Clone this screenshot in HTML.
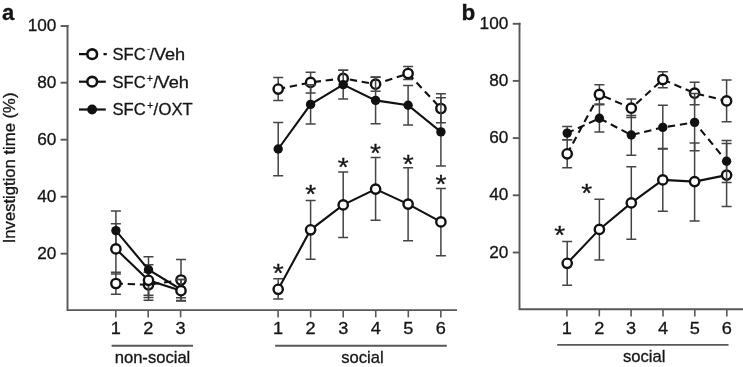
<!DOCTYPE html>
<html><head><meta charset="utf-8"><title>figure</title>
<style>
html,body{margin:0;padding:0;background:#fff;}
svg{display:block;}
text{font-family:"Liberation Sans", Arial, Helvetica, sans-serif;fill:#151515;stroke:#151515;stroke-width:0.3px;}
</style></head><body>
<svg width="743" height="367" viewBox="0 0 743 367">
<rect width="743" height="367" fill="#fff"/>
<g stroke="#585858" stroke-width="1.9" fill="none">
<path d="M67.5 25.1V310.1H457"/>
<path d="M60.6 253.70H67.5"/>
<path d="M60.6 196.70H67.5"/>
<path d="M60.6 139.70H67.5"/>
<path d="M60.6 82.70H67.5"/>
<path d="M60.6 26.05H68.45"/>
<path d="M115.8 310.1V317.4" stroke-width="1.6"/>
<path d="M148.2 310.1V317.4" stroke-width="1.6"/>
<path d="M180.6 310.1V317.4" stroke-width="1.6"/>
<path d="M278.1 310.1V317.4" stroke-width="1.6"/>
<path d="M310.65 310.1V317.4" stroke-width="1.6"/>
<path d="M343.2 310.1V317.4" stroke-width="1.6"/>
<path d="M375.75 310.1V317.4" stroke-width="1.6"/>
<path d="M408.3 310.1V317.4" stroke-width="1.6"/>
<path d="M440.85 310.1V317.4" stroke-width="1.6"/>
<path d="M111.6 345.8H193"/>
<path d="M275.2 345.8H446.8"/>
</g>
<text transform="translate(56.4 259.45) scale(1.05 1)" font-size="16.4" text-anchor="end">20</text>
<text transform="translate(56.4 202.45) scale(1.05 1)" font-size="16.4" text-anchor="end">40</text>
<text transform="translate(56.4 145.45) scale(1.05 1)" font-size="16.4" text-anchor="end">60</text>
<text transform="translate(56.4 88.45) scale(1.05 1)" font-size="16.4" text-anchor="end">80</text>
<text transform="translate(56.4 30.75) scale(1.05 1)" font-size="16.4" text-anchor="end">100</text>
<text transform="translate(115.8 334.3) scale(1.08 1)" font-size="16.8" text-anchor="middle">1</text>
<text transform="translate(148.2 334.3) scale(1.08 1)" font-size="16.8" text-anchor="middle">2</text>
<text transform="translate(180.6 334.3) scale(1.08 1)" font-size="16.8" text-anchor="middle">3</text>
<text transform="translate(278.1 334.3) scale(1.08 1)" font-size="16.8" text-anchor="middle">1</text>
<text transform="translate(310.65 334.3) scale(1.08 1)" font-size="16.8" text-anchor="middle">2</text>
<text transform="translate(343.2 334.3) scale(1.08 1)" font-size="16.8" text-anchor="middle">3</text>
<text transform="translate(375.75 334.3) scale(1.08 1)" font-size="16.8" text-anchor="middle">4</text>
<text transform="translate(408.3 334.3) scale(1.08 1)" font-size="16.8" text-anchor="middle">5</text>
<text transform="translate(440.85 334.3) scale(1.08 1)" font-size="16.8" text-anchor="middle">6</text>
<text x="152.5" y="363" font-size="16.6" text-anchor="middle">non-social</text>
<text x="362.4" y="363" font-size="16.6" text-anchor="middle">social</text>
<text transform="translate(14.5 243.3) rotate(-90)" font-size="16.65">Investigtion time (%)</text>
<text x="2.0" y="20.4" font-size="22" font-weight="bold">a</text>
<text x="461.6" y="20.2" font-size="22.5" font-weight="bold">b</text>
<path d="M79 54.2H87M103.5 54.2H106.8" stroke="#111" stroke-width="2.2"/>
<circle cx="92.20" cy="54.20" r="4.85" fill="#fff" stroke="#111" stroke-width="2.55"/>
<path d="M79 81.7H105.8" stroke="#111" stroke-width="2.2"/>
<circle cx="92.20" cy="81.70" r="4.85" fill="#fff" stroke="#111" stroke-width="2.55"/>
<path d="M79 109.5H105.8" stroke="#111" stroke-width="2.2"/>
<circle cx="92.10" cy="109.50" r="4.9" fill="#111"/>
<text y="60.1" font-size="16.6"><tspan x="112.5">SFC</tspan><tspan x="147.2" dy="-9.2" font-size="8">-</tspan><tspan x="149.5" dy="9.2">/</tspan><tspan x="153.9" textLength="31.30" lengthAdjust="spacingAndGlyphs">Veh</tspan></text>
<text y="87.85" font-size="16.6"><tspan x="112.5">SFC</tspan><tspan x="146.9" dy="-6.3" font-size="10">+</tspan><tspan x="153.5" dy="6.3">/</tspan><tspan x="157.6" textLength="31.30" lengthAdjust="spacingAndGlyphs">Veh</tspan></text>
<text y="115.4" font-size="16.6"><tspan x="112.5">SFC</tspan><tspan x="147.3" dy="-6.3" font-size="10">+</tspan><tspan x="153.5" dy="6.3">/</tspan><tspan x="158.6">OXT</tspan></text>
<path d="M115.90 272.20V294.20M110.90 272.20H120.90M110.90 294.20H120.90" stroke="#444" stroke-width="1.5" fill="none"/>
<path d="M148.50 272.30V297.40M143.50 272.30H153.50M143.50 297.40H153.50" stroke="#444" stroke-width="1.5" fill="none"/>
<path d="M181.00 259.60V300.60M176.00 259.60H186.00M176.00 300.60H186.00" stroke="#444" stroke-width="1.5" fill="none"/>
<path d="M115.90 283.50L148.50 284.80L181.00 280.00" stroke="#111" stroke-width="2.1" fill="none" stroke-dasharray="7.4 4.75" stroke-dashoffset="0.35"/>
<circle cx="115.90" cy="283.50" r="4.65" fill="#fff" stroke="#111" stroke-width="2.4"/>
<circle cx="148.50" cy="284.80" r="4.65" fill="#fff" stroke="#111" stroke-width="2.4"/>
<circle cx="181.00" cy="280.00" r="4.65" fill="#fff" stroke="#111" stroke-width="2.4"/>
<path d="M115.90 211.00V250.20M110.90 211.00H120.90M110.90 250.20H120.90" stroke="#444" stroke-width="1.5" fill="none"/>
<path d="M148.50 256.70V295.20M143.50 256.70H153.50M143.50 295.20H153.50" stroke="#444" stroke-width="1.5" fill="none"/>
<path d="M181.00 279.60V301.00M176.00 279.60H186.00M176.00 301.00H186.00" stroke="#444" stroke-width="1.5" fill="none"/>
<path d="M115.90 223.70V274.10M110.90 223.70H120.90M110.90 274.10H120.90" stroke="#444" stroke-width="1.5" fill="none"/>
<path d="M148.50 264.80V300.30M143.50 264.80H153.50M143.50 300.30H153.50" stroke="#444" stroke-width="1.5" fill="none"/>
<path d="M181.00 279.60V297.70M176.00 279.60H186.00M176.00 297.70H186.00" stroke="#444" stroke-width="1.5" fill="none"/>
<path d="M115.90 230.60L148.50 269.70L181.00 289.50" stroke="#111" stroke-width="2.1" fill="none"/>
<circle cx="115.90" cy="230.60" r="4.7" fill="#111"/>
<circle cx="148.50" cy="269.70" r="4.7" fill="#111"/>
<circle cx="181.00" cy="289.50" r="4.7" fill="#111"/>
<path d="M115.90 248.90L148.50 280.30L181.00 290.70" stroke="#111" stroke-width="2.1" fill="none"/>
<circle cx="115.90" cy="248.90" r="4.65" fill="#fff" stroke="#111" stroke-width="2.4"/>
<circle cx="148.50" cy="280.30" r="4.65" fill="#fff" stroke="#111" stroke-width="2.4"/>
<circle cx="181.00" cy="290.70" r="4.65" fill="#fff" stroke="#111" stroke-width="2.4"/>
<path d="M278.20 77.55V100.55M273.20 77.55H283.20M273.20 100.55H283.20" stroke="#444" stroke-width="1.5" fill="none"/>
<path d="M310.60 72.30V93.00M305.60 72.30H315.60M305.60 93.00H315.60" stroke="#444" stroke-width="1.5" fill="none"/>
<path d="M343.20 70.20V86.60M338.20 70.20H348.20M338.20 86.60H348.20" stroke="#444" stroke-width="1.5" fill="none"/>
<path d="M375.60 77.20V91.30M370.60 77.20H380.60M370.60 91.30H380.60" stroke="#444" stroke-width="1.5" fill="none"/>
<path d="M408.10 66.50V79.50M403.10 66.50H413.10M403.10 79.50H413.10" stroke="#444" stroke-width="1.5" fill="none"/>
<path d="M440.90 93.70V122.80M435.90 93.70H445.90M435.90 122.80H445.90" stroke="#444" stroke-width="1.5" fill="none"/>
<path d="M278.20 89.05L310.60 82.40L343.20 78.40L375.60 84.20L408.10 73.50L440.90 108.50" stroke="#111" stroke-width="2.1" fill="none" stroke-dasharray="7.4 4.75" stroke-dashoffset="0.35"/>
<circle cx="278.20" cy="89.05" r="4.65" fill="#fff" stroke="#111" stroke-width="2.4"/>
<circle cx="310.60" cy="82.40" r="4.65" fill="#fff" stroke="#111" stroke-width="2.4"/>
<circle cx="343.20" cy="78.40" r="4.65" fill="#fff" stroke="#111" stroke-width="2.4"/>
<circle cx="375.60" cy="84.20" r="4.65" fill="#fff" stroke="#111" stroke-width="2.4"/>
<circle cx="408.10" cy="73.50" r="4.65" fill="#fff" stroke="#111" stroke-width="2.4"/>
<circle cx="440.90" cy="108.50" r="4.65" fill="#fff" stroke="#111" stroke-width="2.4"/>
<path d="M278.20 122.50V175.80M273.20 122.50H283.20M273.20 175.80H283.20" stroke="#444" stroke-width="1.5" fill="none"/>
<path d="M310.60 84.70V124.00M305.60 84.70H315.60M305.60 124.00H315.60" stroke="#444" stroke-width="1.5" fill="none"/>
<path d="M343.20 70.20V99.00M338.20 70.20H348.20M338.20 99.00H348.20" stroke="#444" stroke-width="1.5" fill="none"/>
<path d="M375.60 77.10V123.75M370.60 77.10H380.60M370.60 123.75H380.60" stroke="#444" stroke-width="1.5" fill="none"/>
<path d="M408.10 85.60V124.90M403.10 85.60H413.10M403.10 124.90H413.10" stroke="#444" stroke-width="1.5" fill="none"/>
<path d="M440.90 97.70V165.90M435.90 97.70H445.90M435.90 165.90H445.90" stroke="#444" stroke-width="1.5" fill="none"/>
<path d="M278.20 149.00L310.60 104.40L343.20 84.60L375.60 100.40L408.10 105.25L440.90 131.90" stroke="#111" stroke-width="2.1" fill="none"/>
<circle cx="278.20" cy="149.00" r="4.7" fill="#111"/>
<circle cx="310.60" cy="104.40" r="4.7" fill="#111"/>
<circle cx="343.20" cy="84.60" r="4.7" fill="#111"/>
<circle cx="375.60" cy="100.40" r="4.7" fill="#111"/>
<circle cx="408.10" cy="105.25" r="4.7" fill="#111"/>
<circle cx="440.90" cy="131.90" r="4.7" fill="#111"/>
<path d="M278.20 278.80V299.10M273.20 278.80H283.20M273.20 299.10H283.20" stroke="#444" stroke-width="1.5" fill="none"/>
<path d="M310.60 200.60V259.20M305.60 200.60H315.60M305.60 259.20H315.60" stroke="#444" stroke-width="1.5" fill="none"/>
<path d="M343.20 172.10V237.50M338.20 172.10H348.20M338.20 237.50H348.20" stroke="#444" stroke-width="1.5" fill="none"/>
<path d="M375.60 157.50V220.20M370.60 157.50H380.60M370.60 220.20H380.60" stroke="#444" stroke-width="1.5" fill="none"/>
<path d="M408.10 167.70V240.70M403.10 167.70H413.10M403.10 240.70H413.10" stroke="#444" stroke-width="1.5" fill="none"/>
<path d="M440.90 188.50V255.80M435.90 188.50H445.90M435.90 255.80H445.90" stroke="#444" stroke-width="1.5" fill="none"/>
<path d="M278.20 289.30L310.60 229.80L343.20 204.90L375.60 189.10L408.10 204.10L440.90 221.90" stroke="#111" stroke-width="2.1" fill="none"/>
<circle cx="278.20" cy="289.30" r="4.65" fill="#fff" stroke="#111" stroke-width="2.4"/>
<circle cx="310.60" cy="229.80" r="4.65" fill="#fff" stroke="#111" stroke-width="2.4"/>
<circle cx="343.20" cy="204.90" r="4.65" fill="#fff" stroke="#111" stroke-width="2.4"/>
<circle cx="375.60" cy="189.10" r="4.65" fill="#fff" stroke="#111" stroke-width="2.4"/>
<circle cx="408.10" cy="204.10" r="4.65" fill="#fff" stroke="#111" stroke-width="2.4"/>
<circle cx="440.90" cy="221.90" r="4.65" fill="#fff" stroke="#111" stroke-width="2.4"/>
<text transform="translate(278.20 281.80) scale(1.06 0.95)" font-size="26.5" text-anchor="middle" stroke="#111" stroke-width="0.5">*</text>
<text transform="translate(310.70 203.40) scale(1.06 0.95)" font-size="26.5" text-anchor="middle" stroke="#111" stroke-width="0.5">*</text>
<text transform="translate(343.20 175.80) scale(1.06 0.95)" font-size="26.5" text-anchor="middle" stroke="#111" stroke-width="0.5">*</text>
<text transform="translate(375.50 162.00) scale(1.06 0.95)" font-size="26.5" text-anchor="middle" stroke="#111" stroke-width="0.5">*</text>
<text transform="translate(408.30 173.20) scale(1.06 0.95)" font-size="26.5" text-anchor="middle" stroke="#111" stroke-width="0.5">*</text>
<text transform="translate(440.90 193.10) scale(1.06 0.95)" font-size="26.5" text-anchor="middle" stroke="#111" stroke-width="0.5">*</text>
<g stroke="#585858" stroke-width="1.9" fill="none">
<path d="M519.5 22.85V309.3H743"/>
<path d="M512.8 252.50H519.5"/>
<path d="M512.8 195.30H519.5"/>
<path d="M512.8 138.10H519.5"/>
<path d="M512.8 80.90H519.5"/>
<path d="M512.8 23.8H520.45"/>
<path d="M566.9 309.3V316.4" stroke-width="1.6"/>
<path d="M599.3 309.3V316.4" stroke-width="1.6"/>
<path d="M631.1 309.3V316.4" stroke-width="1.6"/>
<path d="M663.0 309.3V316.4" stroke-width="1.6"/>
<path d="M694.8 309.3V316.4" stroke-width="1.6"/>
<path d="M726.8 309.3V316.4" stroke-width="1.6"/>
<path d="M557.2 344.9H728.5"/>
</g>
<text transform="translate(508.3 257.55) scale(1.05 1)" font-size="16.4" text-anchor="end">20</text>
<text transform="translate(508.3 200.35) scale(1.05 1)" font-size="16.4" text-anchor="end">40</text>
<text transform="translate(508.3 143.15) scale(1.05 1)" font-size="16.4" text-anchor="end">60</text>
<text transform="translate(508.3 85.95) scale(1.05 1)" font-size="16.4" text-anchor="end">80</text>
<text transform="translate(508.3 28.75) scale(1.05 1)" font-size="16.4" text-anchor="end">100</text>
<text transform="translate(566.9 333.6) scale(1.08 1)" font-size="16.8" text-anchor="middle">1</text>
<text transform="translate(599.3 333.6) scale(1.08 1)" font-size="16.8" text-anchor="middle">2</text>
<text transform="translate(631.1 333.6) scale(1.08 1)" font-size="16.8" text-anchor="middle">3</text>
<text transform="translate(663.0 333.6) scale(1.08 1)" font-size="16.8" text-anchor="middle">4</text>
<text transform="translate(694.8 333.6) scale(1.08 1)" font-size="16.8" text-anchor="middle">5</text>
<text transform="translate(726.8 333.6) scale(1.08 1)" font-size="16.8" text-anchor="middle">6</text>
<text x="644.2" y="362.1" font-size="16.6" text-anchor="middle">social</text>
<path d="M567.20 241.45V285.15M562.20 241.45H572.20M562.20 285.15H572.20" stroke="#444" stroke-width="1.5" fill="none"/>
<path d="M599.40 199.20V260.00M594.40 199.20H604.40M594.40 260.00H604.40" stroke="#444" stroke-width="1.5" fill="none"/>
<path d="M631.30 166.70V239.20M626.30 166.70H636.30M626.30 239.20H636.30" stroke="#444" stroke-width="1.5" fill="none"/>
<path d="M662.80 148.60V211.25M657.80 148.60H667.80M657.80 211.25H667.80" stroke="#444" stroke-width="1.5" fill="none"/>
<path d="M694.60 143.10V221.10M689.60 143.10H699.60M689.60 221.10H699.60" stroke="#444" stroke-width="1.5" fill="none"/>
<path d="M726.60 143.40V206.60M721.60 143.40H731.60M721.60 206.60H731.60" stroke="#444" stroke-width="1.5" fill="none"/>
<path d="M567.20 263.30L599.40 229.40L631.30 202.90L662.80 179.90L694.60 181.60L726.60 175.10" stroke="#111" stroke-width="2.1" fill="none"/>
<circle cx="567.20" cy="263.30" r="4.65" fill="#fff" stroke="#111" stroke-width="2.4"/>
<circle cx="599.40" cy="229.40" r="4.65" fill="#fff" stroke="#111" stroke-width="2.4"/>
<circle cx="631.30" cy="202.90" r="4.65" fill="#fff" stroke="#111" stroke-width="2.4"/>
<circle cx="662.80" cy="179.90" r="4.65" fill="#fff" stroke="#111" stroke-width="2.4"/>
<circle cx="694.60" cy="181.60" r="4.65" fill="#fff" stroke="#111" stroke-width="2.4"/>
<circle cx="726.60" cy="175.10" r="4.65" fill="#fff" stroke="#111" stroke-width="2.4"/>
<path d="M567.20 139.80V167.80M562.20 139.80H572.20M562.20 167.80H572.20" stroke="#444" stroke-width="1.5" fill="none"/>
<path d="M599.40 84.80V104.00M594.40 84.80H604.40M594.40 104.00H604.40" stroke="#444" stroke-width="1.5" fill="none"/>
<path d="M631.30 98.90V117.50M626.30 98.90H636.30M626.30 117.50H636.30" stroke="#444" stroke-width="1.5" fill="none"/>
<path d="M662.80 71.70V87.70M657.80 71.70H667.80M657.80 87.70H667.80" stroke="#444" stroke-width="1.5" fill="none"/>
<path d="M694.60 82.30V104.80M689.60 82.30H699.60M689.60 104.80H699.60" stroke="#444" stroke-width="1.5" fill="none"/>
<path d="M726.60 80.10V121.80M721.60 80.10H731.60M721.60 121.80H731.60" stroke="#444" stroke-width="1.5" fill="none"/>
<path d="M567.20 153.80L599.40 94.40L631.30 108.20L662.80 79.50L694.60 93.20L726.60 100.90" stroke="#111" stroke-width="2.1" fill="none" stroke-dasharray="7.4 4.75" stroke-dashoffset="0.35"/>
<circle cx="567.20" cy="153.80" r="4.65" fill="#fff" stroke="#111" stroke-width="2.4"/>
<circle cx="599.40" cy="94.40" r="4.65" fill="#fff" stroke="#111" stroke-width="2.4"/>
<circle cx="631.30" cy="108.20" r="4.65" fill="#fff" stroke="#111" stroke-width="2.4"/>
<circle cx="662.80" cy="79.50" r="4.65" fill="#fff" stroke="#111" stroke-width="2.4"/>
<circle cx="694.60" cy="93.20" r="4.65" fill="#fff" stroke="#111" stroke-width="2.4"/>
<circle cx="726.60" cy="100.90" r="4.65" fill="#fff" stroke="#111" stroke-width="2.4"/>
<path d="M567.20 126.50V139.80M562.20 126.50H572.20M562.20 139.80H572.20" stroke="#444" stroke-width="1.5" fill="none"/>
<path d="M599.40 104.70V131.90M594.40 104.70H604.40M594.40 131.90H604.40" stroke="#444" stroke-width="1.5" fill="none"/>
<path d="M631.30 115.40V155.30M626.30 115.40H636.30M626.30 155.30H636.30" stroke="#444" stroke-width="1.5" fill="none"/>
<path d="M662.80 105.20V149.00M657.80 105.20H667.80M657.80 149.00H667.80" stroke="#444" stroke-width="1.5" fill="none"/>
<path d="M694.60 93.60V150.75M689.60 93.60H699.60M689.60 150.75H699.60" stroke="#444" stroke-width="1.5" fill="none"/>
<path d="M726.60 140.50V182.60M721.60 140.50H731.60M721.60 182.60H731.60" stroke="#444" stroke-width="1.5" fill="none"/>
<path d="M567.20 133.10L599.40 118.30L631.30 135.05L662.80 127.40L694.60 122.35L726.60 161.30" stroke="#111" stroke-width="2.1" fill="none" stroke-dasharray="7.4 4.75" stroke-dashoffset="0.35"/>
<circle cx="567.20" cy="133.10" r="4.7" fill="#111"/>
<circle cx="599.40" cy="118.30" r="4.7" fill="#111"/>
<circle cx="631.30" cy="135.05" r="4.7" fill="#111"/>
<circle cx="662.80" cy="127.40" r="4.7" fill="#111"/>
<circle cx="694.60" cy="122.35" r="4.7" fill="#111"/>
<circle cx="726.60" cy="161.30" r="4.7" fill="#111"/>
<text transform="translate(559.80 243.60) scale(1.06 0.95)" font-size="26.5" text-anchor="middle" stroke="#111" stroke-width="0.5">*</text>
<text transform="translate(586.60 202.40) scale(1.06 0.95)" font-size="26.5" text-anchor="middle" stroke="#111" stroke-width="0.5">*</text>
</svg></body></html>
